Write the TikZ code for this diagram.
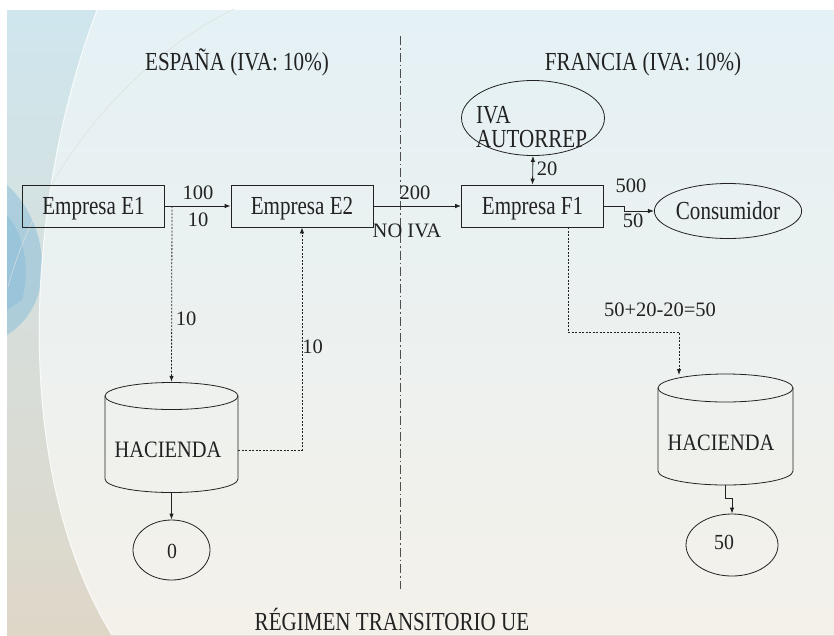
\documentclass[tikz,border=0pt]{standalone}
\usepackage{fontspec}
\setmainfont{Liberation Serif}
\newfontfamily\fbig[FakeStretch=0.81]{Liberation Serif}
\newfontfamily\fhac[FakeStretch=0.87]{Liberation Serif}
\newfontfamily\fcirc[FakeStretch=0.92]{Liberation Serif}
\usetikzlibrary{arrows.meta,calc,shapes.geometric}
\definecolor{inA}{HTML}{E4F1F5}
\definecolor{inM}{HTML}{E8E8D8}
\definecolor{inB}{HTML}{F4F1EA}
\definecolor{outA}{HTML}{CFE6EE}
\definecolor{outM}{HTML}{C9CDB4}
\definecolor{outB}{HTML}{DED7C8}
\definecolor{ink}{HTML}{222222}
\definecolor{blueS}{HTML}{7DB8D8}
\begin{document}
\begin{tikzpicture}[x=1pt,y=-1pt,
  every node/.style={text=ink},
  bigtext/.style={font=\fbig\fontsize{26}{24.5}\selectfont},
  box/.style={bigtext,draw=ink,line width=0.8pt,minimum width=142pt,minimum height=42pt,inner sep=0pt,text height=17.2pt,text depth=0pt},
  oval/.style={draw=ink,ellipse,line width=0.8pt,inner sep=0pt},
  title/.style={bigtext,inner sep=0pt,text height=17.2pt,text depth=0pt},
  lbl/.style={font=\fontsize{20.5}{24}\selectfont,inner sep=0pt,text height=13.9pt,text depth=0pt},
  hac/.style={font=\fhac\fontsize{23.5}{24}\selectfont,inner sep=0pt,text height=15.6pt,text depth=0pt},
  circtext/.style={font=\fcirc\fontsize{21.5}{24}\selectfont,inner sep=0pt,text height=14.5pt,text depth=0pt},
  arr/.style={draw=ink,line width=0.8pt,-{Latex[length=6pt,width=4.5pt]}},
  darr/.style={arr,dash pattern=on 2pt off 1.5pt},
  biarr/.style={draw=ink,line width=0.8pt,{Latex[length=6pt,width=4.5pt]}-{Latex[length=6pt,width=4.5pt]}},
  cyl/.style={draw=ink,line width=0.8pt},
  divider/.style={draw=ink!80,line width=0.7pt,dash pattern=on 9pt off 3pt on 1.5pt off 3pt}]
\useasboundingbox (0,0) rectangle (834,635);
% background
\fill[white] (0,0) rectangle (834,635);
\shade[top color=outA, middle color=outM, bottom color=outB] (7,10) rectangle (834,635);
\fill[blueS,opacity=0.45] (7,185) .. controls (35,210) and (50,255) .. (38,295) .. controls (32,315) and (18,328) .. (7,335) -- cycle;
\fill[blueS,opacity=0.4] (7,215) .. controls (25,235) and (30,270) .. (22,300) -- (7,310) -- cycle;
\shade[top color=inA, middle color=inM, bottom color=inB] (97,10) .. controls (25,200) and (10,470) .. (112,635) -- (834,635) -- (834,10) -- cycle;
\draw[white,line width=1pt,opacity=0.8] (97,10) .. controls (25,200) and (10,470) .. (112,635);
\draw[white!75!gray,line width=0.8pt,opacity=0.7] (234,9) .. controls (130,60) and (40,170) .. (8,287);
% divider
\coordinate (dtop) at (400,36);
\coordinate (dbot) at (400,589);
\draw[divider] (dtop) -- (dbot);
% titles
\node[title] (tes) at (237,62) {ESPAÑA (IVA: 10\%)};
\node[title] (tfr) at (643,62) {FRANCIA (IVA: 10\%)};
\node[title] (treg) at (392,622) {RÉGIMEN TRANSITORIO UE};
% boxes
\node[box] (E1) at (93.5,206) {Empresa E1};
\node[box] (E2) at (302,206) {Empresa E2};
\node[box] (F1) at (532.5,206) {Empresa F1};
\node[oval,minimum width=143pt,minimum height=75pt] (IVA) at (533,118) {};
\node[bigtext,inner sep=0pt,align=left,anchor=north west] (IVAt) at (476,106) {IVA\\AUTORREP};
\node[oval,bigtext,text height=17.2pt,text depth=0pt,minimum width=140pt,minimum height=55pt] (cons) at (728,211) {Consumidor};
\node[oval,minimum width=77pt,minimum height=60pt] (c0) at (171.5,550) {};
\node[circtext] (c0t) at (172,551) {0};
\node[oval,minimum width=92pt,minimum height=62pt] (c50) at (732,545) {};
\node[circtext] (c50t) at (724,542.5) {50};
% Hacienda cylinders
\node[inner sep=0pt,minimum width=133pt,minimum height=110pt] (h1) at (171.5,437) {};
\draw[cyl] (171.5,396) ellipse [x radius=66.5, y radius=13.5];
\draw[cyl] (105,396) -- (105,479) arc[start angle=180,end angle=0,x radius=66.5,y radius=13.5] -- (238,396);
\node[hac] (h1t) at (168,449.5) {HACIENDA};
\node[inner sep=0pt,minimum width=135pt,minimum height=111pt] (h2) at (725.5,429.5) {};
\draw[cyl] (725.5,388) ellipse [x radius=67.5, y radius=14];
\draw[cyl] (658,388) -- (658,471) arc[start angle=180,end angle=0,x radius=67.5,y radius=14] -- (793,388);
\node[hac] (h2t) at (721,443) {HACIENDA};
% connectors
\coordinate (j1) at (172,206);
\coordinate (f1b) at (568,227);
\coordinate (h2in) at (679,375);
\draw[arr] (E1.east) -- (E2.west);
\draw[arr] (E2.east) -- (F1.west);
\draw[arr] (F1.east) -- ++(20,0) |- (cons.west);
\draw[biarr] (IVA.south) -- (F1.north);
\draw[darr] (j1) -- (h1.north);
\draw[darr] ([yshift=-13pt]h1.east) -| (E2.south);
\draw[arr] (h1.south) -- (c0.north);
\draw[darr] (f1b) -- ++(0,105) -| (h2in);
\draw[arr] (h2.south) -- ++(0,13) -| (c50.north);
% labels
\node[lbl] (l100) at (198,192.5) {100};
\node[lbl] (l10a) at (198,220) {10};
\node[lbl] (l200) at (415,192.5) {200};
\node[lbl] (lnoiva) at (407,231) {NO IVA};
\node[lbl] (l500) at (631,185.5) {500};
\node[lbl] (l50) at (633,220.5) {50};
\node[lbl] (l20) at (547,168.5) {20};
\node[lbl] (l10b) at (186,319) {10};
\node[lbl] (l10c) at (312.5,346.5) {10};
\node[lbl] (lsum) at (660,310) {50+20-20=50};
\end{tikzpicture}
\end{document}
